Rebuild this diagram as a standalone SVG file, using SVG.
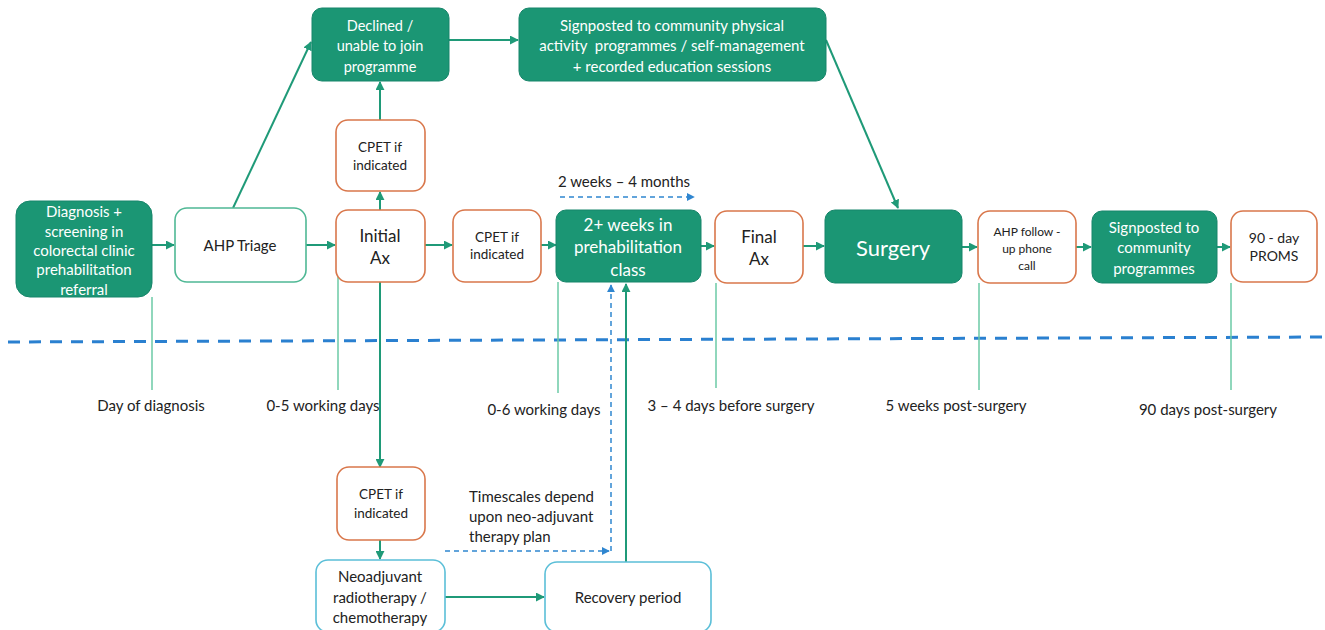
<svg xmlns="http://www.w3.org/2000/svg" width="1325" height="630" viewBox="0 0 1325 630">
<defs>
<style>
text{font-family:Lato,"Open Sans","Liberation Sans",sans-serif;text-anchor:middle;dominant-baseline:central}
.g rect{fill:#1b9674;stroke:#17856a;stroke-width:1}
.g text{fill:#fff}
.o rect{fill:#fff;stroke:#d9774b;stroke-width:1.6}
.t rect{fill:#fff;stroke:#4fb895;stroke-width:1.6}
.b rect{fill:#fff;stroke:#5bbfd8;stroke-width:1.6}
.o text,.t text,.b text,.lbl{fill:#222}
.c{stroke:#1f9a78;stroke-width:2;fill:none}
.tick{stroke:#6ccaa6;stroke-width:1.5;fill:none}
.dash{stroke:#2f86d0;stroke-width:1.5;stroke-dasharray:5 4;fill:none}
</style>
<marker id="ag" viewBox="0 0 10 10" refX="9" refY="5" markerWidth="4.5" markerHeight="4.5" orient="auto"><path d="M0,0L10,5L0,10z" fill="#1f9a78"/></marker>
<marker id="ab" viewBox="0 0 10 10" refX="9" refY="5" markerWidth="5.5" markerHeight="5.5" orient="auto"><path d="M0,0L10,5L0,10z" fill="#2f86d0"/></marker>
</defs>
<rect width="1325" height="630" fill="#fff"/>

<g id="timeline">
<line x1="8" y1="342" x2="1325" y2="337" stroke="#2a80d0" stroke-width="3" stroke-dasharray="12 9"/>
<path class="tick" d="M152,297V390M338,245V390M558,282V393M716,283V388M979,283V390M1231,283V390"/>
<text class="lbl" x="151" y="405" font-size="15">Day of diagnosis</text>
<text class="lbl" x="323" y="405" font-size="15">0-5 working days</text>
<text class="lbl" x="544" y="409" font-size="15">0-6 working days</text>
<text class="lbl" x="731" y="405" font-size="15">3 – 4 days before surgery</text>
<text class="lbl" x="956" y="405" font-size="15">5 weeks post-surgery</text>
<text class="lbl" x="1208" y="409" font-size="15">90 days post-surgery</text>
</g>

<g id="connectors">
<path class="c" marker-end="url(#ag)" d="M152,245H174"/>
<path class="c" marker-end="url(#ag)" d="M306,245H335"/>
<path class="c" marker-end="url(#ag)" d="M425,245H452"/>
<path class="c" marker-end="url(#ag)" d="M541,245H556"/>
<path class="c" marker-end="url(#ag)" d="M701,246H714"/>
<path class="c" marker-end="url(#ag)" d="M803,246H824"/>
<path class="c" marker-end="url(#ag)" d="M962,247H977"/>
<path class="c" marker-end="url(#ag)" d="M1076,247H1091"/>
<path class="c" marker-end="url(#ag)" d="M1217,247H1230"/>
<path class="c" marker-end="url(#ag)" d="M233,208L311,42"/>
<path class="c" marker-end="url(#ag)" d="M380,210V192"/>
<path class="c" marker-end="url(#ag)" d="M380,120V82"/>
<path class="c" marker-end="url(#ag)" d="M449,40H518"/>
<path class="c" marker-end="url(#ag)" d="M826,40L898,208"/>
<path class="c" marker-end="url(#ag)" d="M380,282V467"/>
<path class="c" marker-end="url(#ag)" d="M380,540V559"/>
<path class="c" marker-end="url(#ag)" d="M445,597H544"/>
<path class="c" marker-end="url(#ag)" d="M626,562V284"/>
<path class="dash" marker-end="url(#ab)" d="M445,551H609"/>
<path class="dash" marker-end="url(#ab)" d="M611,551V285"/>
<path class="dash" marker-end="url(#ab)" d="M560,197H694"/>
</g>

<g id="diagnosis" class="g"><rect x="16" y="201" width="136" height="96" rx="14"/>
<text font-size="15"><tspan x="84" y="211">Diagnosis +</tspan><tspan x="84" y="231">screening in</tspan><tspan x="84" y="250">colorectal clinic</tspan><tspan x="84" y="269">prehabilitation</tspan><tspan x="84" y="289">referral</tspan></text></g>

<g id="ahp-triage" class="t"><rect x="175" y="208" width="131" height="74" rx="12"/>
<text x="240" y="245" font-size="15">AHP Triage</text></g>

<g id="initial-ax" class="o"><rect x="336" y="210" width="89" height="72" rx="12"/>
<text font-size="17"><tspan x="380" y="235">Initial</tspan><tspan x="380" y="257">Ax</tspan></text></g>

<g id="cpet-top" class="o"><rect x="336" y="120" width="89" height="71" rx="12"/>
<text font-size="13.5"><tspan x="380" y="147">CPET if</tspan><tspan x="380" y="165">indicated</tspan></text></g>

<g id="declined" class="g"><rect x="312" y="8" width="137" height="73" rx="10"/>
<text font-size="14.5"><tspan x="380" y="25">Declined /</tspan><tspan x="380" y="45">unable to join</tspan><tspan x="380" y="66">programme</tspan></text></g>

<g id="signposted-top" class="g"><rect x="519" y="8" width="307" height="73" rx="10"/>
<text font-size="15" style="white-space:pre"><tspan x="672" y="25">Signposted to community physical</tspan><tspan x="672" y="45">activity  programmes / self-management</tspan><tspan x="672" y="66">+ recorded education sessions</tspan></text></g>

<g id="cpet-mid" class="o"><rect x="453" y="210" width="88" height="72" rx="12"/>
<text font-size="13.5"><tspan x="497" y="237">CPET if</tspan><tspan x="497" y="254">indicated</tspan></text></g>

<g id="prehab-class" class="g"><rect x="556" y="210" width="145" height="72" rx="10"/>
<text font-size="17"><tspan x="628" y="224">2+ weeks in</tspan><tspan x="628" y="246">prehabilitation</tspan><tspan x="628" y="269">class</tspan></text></g>

<g id="final-ax" class="o"><rect x="715" y="211" width="88" height="72" rx="12"/>
<text font-size="17"><tspan x="759" y="236">Final</tspan><tspan x="759" y="258">Ax</tspan></text></g>

<g id="surgery" class="g"><rect x="825" y="210" width="137" height="73" rx="10"/>
<text x="893" y="247" font-size="22">Surgery</text></g>

<g id="ahp-follow" class="o"><rect x="978" y="211" width="98" height="72" rx="12"/>
<text font-size="12"><tspan x="1027" y="231">AHP follow -</tspan><tspan x="1027" y="248">up phone</tspan><tspan x="1027" y="265">call</tspan></text></g>

<g id="signposted-community" class="g"><rect x="1092" y="211" width="125" height="72" rx="10"/>
<text font-size="15"><tspan x="1154" y="227">Signposted to</tspan><tspan x="1154" y="247">community</tspan><tspan x="1154" y="268">programmes</tspan></text></g>

<g id="proms" class="o"><rect x="1231" y="211" width="86" height="71" rx="12"/>
<text font-size="14"><tspan x="1274" y="237">90 - day</tspan><tspan x="1274" y="255">PROMS</tspan></text></g>

<g id="cpet-bottom" class="o"><rect x="337" y="467" width="88" height="73" rx="12"/>
<text font-size="13.5"><tspan x="381" y="494">CPET if</tspan><tspan x="381" y="513">indicated</tspan></text></g>

<g id="neoadjuvant" class="b"><rect x="316" y="560" width="129" height="72" rx="12"/>
<text font-size="15"><tspan x="380" y="576">Neoadjuvant</tspan><tspan x="380" y="597">radiotherapy /</tspan><tspan x="380" y="617">chemotherapy</tspan></text></g>

<g id="recovery" class="b"><rect x="545" y="562" width="166" height="70" rx="12"/>
<text x="628" y="597" font-size="15">Recovery period</text></g>

<g id="notes">
<text class="lbl" font-size="15" style="text-anchor:start"><tspan x="469" y="496">Timescales depend</tspan><tspan x="469" y="516">upon neo-adjuvant</tspan><tspan x="469" y="536">therapy plan</tspan></text>
<text class="lbl" x="624" y="181" font-size="15">2 weeks – 4 months</text>
</g>
</svg>
